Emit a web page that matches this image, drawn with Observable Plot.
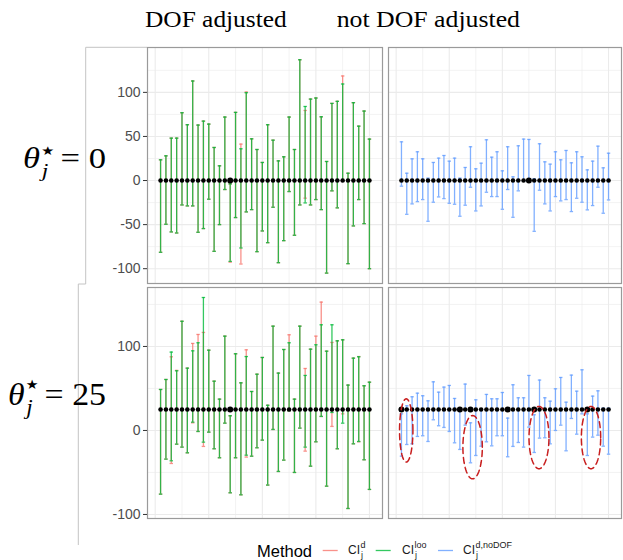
<!DOCTYPE html>
<html><head><meta charset="utf-8">
<script src="https://cdn.jsdelivr.net/npm/d3@7"></script>
<script src="https://cdn.jsdelivr.net/npm/@observablehq/plot@0.6"></script>
<style>
body{margin:0;background:#fff;}
#wrap{position:relative;width:623px;height:560px;overflow:hidden;background:#fff;}
.p{position:absolute;}
.p svg{background:transparent !important;max-width:none !important;overflow:visible;}
#ov{position:absolute;left:0;top:0;}
</style></head><body><div id="wrap"></div>
<script>
// ---------------- data ----------------
const colTitles = ["DOF adjusted", "not DOF adjusted"];
const truthValues = [0, 25];
const methods = ["d", "loo", "d,noDOF"];
const methodColors = ["#F8766D", "#00BA38", "#619CFF"];
const idx = d3.range(1, 41);

// theta = 0, DOF adjusted, CI loo (green)
const hiLoo0 = [23.5,28,48.1,48.1,76.9,63.3,112.9,62.9,67.4,64,37.5,16.7,72,-3.8,77.3,36,99.6,47.3,35.2,20.5,63.3,45.8,22.3,26.9,72,35.2,137,84,92.4,93.6,72.3,21.6,87.5,89.8,109.5,8.3,88.3,61.7,78.8,47];
const loLoo0 = [-81.4,-49.6,-58.3,-59.5,-27.7,-28.8,-28.8,-58.7,-54.5,-21.2,-80.3,-50,-10.2,-91.7,-42,-76.5,-35.6,-33,-80.7,-57.2,-70.5,-30.3,-93.2,-68.2,-12.5,-62.1,-27.7,-25.4,-27.7,-21.6,-33,-105,-11.7,-31,-0.5,-94.3,-51.5,-21.6,-48.9,-100];
// theta = 0, DOF adjusted, CI d (red)
const hiD0 = [23.5,28,48.1,48.1,76.9,63.3,112.9,62.9,67.4,64,37.5,16.7,72,-3.8,77.3,41.3,100.4,47.3,35.2,20.5,63.3,45.8,22.3,26.9,72,35.2,137,79.5,92.4,93.6,72.3,21.6,87.5,89.8,118.6,8.3,88.3,61.7,78.8,47];
const loD0 = [-81.4,-49.6,-58.3,-59.5,-27.7,-28.8,-28.8,-58.7,-54.5,-21.2,-80.3,-50,-10.2,-92.6,-42,-94.7,-35.6,-33,-80.7,-57.2,-70.5,-30.3,-93.2,-68.2,-12.5,-62.1,-27.7,-20,-27.7,-21.6,-33,-105,-11.7,-31,-0.5,-94.3,-51.5,-21.6,-48.9,-100];
// theta = 0, not DOF adjusted (blue)
const hiNo0 = [43.9,8.3,24.6,32.6,24.6,2.7,20.5,25.4,28.4,22,25.4,2.7,14.8,38.3,13.3,19.7,46.2,26.5,32.6,11,38.3,4.2,39.4,47,46.6,1.9,41.7,21.2,18.6,32.6,23.5,34.1,20.1,32.6,26.9,12.1,22,39,14.4,31];
const loNo0 = [-6.4,-38.3,-26.5,-23.9,-21.6,-46.2,-24.6,-18.6,-20.5,-25.8,-26.9,-40.5,-28,-7.6,-34.5,-28.8,-13.3,-18.2,-18.2,-32.6,-10.2,-41.7,-11.7,-0.8,0.8,-57.6,-11,-26.5,-34.5,-18.2,-23.1,-21.6,-35.2,-20.1,-24.6,-33.3,-28.4,-7.6,-37.1,-22];

// theta = 25, DOF adjusted, CI loo (green)
const hiLoo25 = [48.8,60.7,93.3,71,130,74.2,94.8,104.4,158.3,95.6,58.7,37.3,112.3,17.5,91.3,56.7,88,46.4,67,86.9,30,124.2,68.3,96.4,104.4,37.3,124.2,65.5,96.8,102,125.8,94.4,125.8,106.7,107.9,54,86.1,87.7,53.2,57.5];
const loLoo25 = [-75.8,-34.1,-36.1,-16.3,-19.8,-26.6,9.9,-1.2,-13.9,-2,-21.8,-32.5,8.7,-74.2,-32.5,-76.6,-29.4,-30.6,-20.6,-11.5,-65,1.2,-48.8,-35.3,23.4,-50,2.8,-19.8,-42.5,-13.5,16.7,-66.3,21.4,-21.8,8.7,-92.9,-15.9,-13.1,-34.9,-70.2];
// theta = 25, DOF adjusted, CI d (red)
const hiD25 = [48.8,60.7,87.7,71.5,130,74.2,103.6,114.3,116.7,95.6,58.7,37.3,112.3,17.5,91.3,56.7,96,46.4,67,86.9,30,124.2,68.3,96.4,113.9,37.3,124.2,73.8,96.8,112.3,152.8,94.4,104.8,106.7,107.9,54,86.1,88,53.2,57.5];
const loD25 = [-75.8,-34.1,-39.3,-16.3,-19.8,-26.6,9.1,-1.2,-19,-2,-21.8,-32.5,8.7,-74.2,-32.5,-76.6,-31.7,-30.6,-20.6,-11.5,-65,1.2,-48.8,-35.3,23.4,-50,2.8,-24.6,-42.5,-13.5,16.7,-66.3,4.8,-21.8,19.8,-92.9,-15.9,-13.5,-34.9,-70.2];
// theta = 25, not DOF adjusted (blue)
const hiNo25 = [19.8,29.4,40.1,44.4,41.3,35.3,57.9,45.6,51.6,53.6,38.1,23.5,55.2,9.1,36.5,25.8,42.9,37.7,37.7,45.2,14.7,54.4,38.9,38.9,65.5,18.7,60,38.9,34.9,49.6,63.1,33.7,65.9,46.8,72.2,19.8,40.9,47.2,26.5,26.5];
const loNo25 = [-30.6,-16.7,-15.9,-7.1,-6.3,-13.1,12.7,5.6,3.6,-1.2,-14.7,-22.6,6.3,-38.5,-29.8,-18.7,-13.5,-18.3,-6.3,-6.3,-31.3,-19,-14.3,-19.8,4,-26.2,-9.1,-8.7,-15.9,0,6.3,-24.2,14.3,-4.4,19.8,-29.8,-7.9,-5.6,-18.7,-28.2];

// annotation ellipses (bottom-right panel), in data units
const ellipses = [
  {cx: 1.9, cy: 0, rx: 1.26, ry: 37.7},
  {cx: 14.4, cy: -19.9, rx: 1.83, ry: 37.7},
  {cx: 26.9, cy: -8.5, rx: 1.88, ry: 37.1},
  {cx: 36.7, cy: -8.5, rx: 1.82, ry: 37.1}
];

const xDomain = [-1.44, 42.44];
const yDomainTop = [-116.8, 150.9];
const yDomainBot = [-104.8, 170.2];
const yTicksTop = [-100, -50, 0, 50, 100];
const yMinorTop = [-75, -25, 25, 75, 125];
const yTicksBot = [-100, 0, 100];
const yMinorBot = [-50, 50, 150];
const xMajor = [0, 10, 20, 30, 40];
const xMinor = [5, 15, 25, 35];

// ---------------- helpers ----------------
const mk = (lo, hi) => idx.map((i, k) => ({i, lo: lo[k], hi: hi[k]}));
function bars(data, color) {
  const o = {stroke: color, strokeWidth: 1.3, strokeOpacity: 0.8};
  return [
    Plot.ruleX(data, {x: "i", y1: "lo", y2: "hi", ...o}),
    Plot.link(data, {x1: d => d.i - 0.32, x2: d => d.i + 0.32, y1: "hi", y2: "hi", ...o}),
    Plot.link(data, {x1: d => d.i - 0.32, x2: d => d.i + 0.32, y1: "lo", y2: "lo", ...o})
  ];
}
function ellipsePts(list) {
  const pts = [];
  list.forEach((e, k) => {
    for (let s = 0; s <= 72; s++) {
      const t = s / 72 * 2 * Math.PI;
      pts.push({k, x: e.cx + e.rx * Math.cos(t), y: e.cy + e.ry * Math.sin(t)});
    }
  });
  return pts;
}

function panel({series, truth, yDomain, yTicks, yMinor, axis, ell, width, height}) {
  const ref = series[series.length - 1].data;
  const miss = d => truth < d.lo || truth > d.hi;
  const marks = [
    Plot.ruleX(xMinor, {stroke: "#ebebeb", strokeWidth: 0.6}),
    Plot.ruleY(yMinor, {stroke: "#ebebeb", strokeWidth: 0.6}),
    Plot.ruleX(xMajor, {stroke: "#ebebeb", strokeWidth: 1.1}),
    Plot.ruleY(yTicks, {stroke: "#ebebeb", strokeWidth: 1.1}),
    ...series.flatMap(s => bars(s.data, s.color)),
    Plot.dot(ref, {filter: d => !miss(d), x: "i", y: () => truth, r: 2.3, fill: "black", stroke: "none"}),
    Plot.dot(ref, {filter: d => miss(d), x: "i", y: () => truth, r: 3, fill: "black", stroke: "none"})
  ];
  if (ell) marks.push(Plot.line(ellipsePts(ell), {x: "x", y: "y", z: "k", stroke: "#c81e1e", strokeWidth: 1.5, strokeDasharray: "6,4", curve: "linear"}));
  marks.push(Plot.frame({stroke: "#9a9a9a", strokeWidth: 1.2}));
  if (axis) marks.push(Plot.axisY(yTicks, {tickSize: 4, tickPadding: 3, tickFormat: d => String(d), fontSize: 14, fill: "#4d4d4d", stroke: "#333", label: null}));
  return Plot.plot({
    width, height,
    marginLeft: axis ? 40 : 1, marginRight: 1, marginTop: 1, marginBottom: 1,
    x: {domain: xDomain, axis: null},
    y: {domain: yDomain, axis: null},
    style: {fontFamily: "'Liberation Sans', Arial, sans-serif", background: "transparent"},
    marks
  });
}

const wrap = document.getElementById("wrap");

// overlay svg (titles, row labels, legend, figure borders)
const W = 623, H = 560;
const ov = d3.select(wrap).append("svg").attr("id", "ov").attr("width", W).attr("height", H);
ov.append("path").attr("d", "M85.7,284 V47.3 H147").attr("fill", "none").attr("stroke", "#c4c4c4").attr("stroke-width", 1);
ov.append("path").attr("d", "M85.7,284 H78.3 V545").attr("fill", "none").attr("stroke", "#c4c4c4").attr("stroke-width", 1);

const serif = "'Liberation Serif', 'Times New Roman', serif";
[[colTitles[0], 145, 141.7], [colTitles[1], 336.7, 183.3]].forEach(([t, x, len]) => {
  ov.append("text").attr("x", x).attr("y", 27).attr("font-family", serif).attr("font-size", 23.5)
    .attr("textLength", len).attr("lengthAdjust", "spacingAndGlyphs").attr("fill", "#000").text(t);
});

function rowLabel(val, baseline, target, size, starDy) {
  const g = ov.append("g");
  const t = g.append("text").attr("text-anchor", "end").attr("font-family", serif).attr("font-size", size).attr("fill", "#000");
  t.append("tspan").attr("font-style", "italic").text("θ");
  t.append("tspan").attr("font-family", "'DejaVu Sans', sans-serif").attr("font-size", size * 0.42).attr("dx", 1).attr("dy", starDy).text("★");
  t.append("tspan").attr("font-style", "italic").attr("font-size", size * 0.68).attr("dx", -size * 0.36).attr("dy", -starDy + size * 0.3).text("j");
  t.append("tspan").attr("dx", size * 0.35).attr("dy", -size * 0.3).text("= " + val);
  const w = t.node().getBBox().width;
  const sx = target / w;
  g.attr("transform", `translate(106,${baseline}) scale(${sx},1)`);
}
rowLabel(truthValues[0], 168, 83, 29, -13);
rowLabel(truthValues[1], 405, 98, 31, -16);

// legend
const sans = "'Liberation Sans', Arial, sans-serif";
ov.append("text").attr("x", 257).attr("y", 557).attr("font-family", sans).attr("font-size", 16.5).attr("fill", "#000").text("Method");
const keyX = [322.7, 375.7, 438];
const labX = [348, 402, 463];
methods.forEach((m, k) => {
  ov.append("line").attr("x1", keyX[k]).attr("x2", keyX[k] + 15).attr("y1", 550.5).attr("y2", 550.5)
    .attr("stroke", methodColors[k]).attr("stroke-opacity", 0.8).attr("stroke-width", 1.3);
  ov.append("text").attr("x", labX[k]).attr("y", 554.3).attr("font-family", sans).attr("font-size", 12).attr("fill", "#1a1a1a").text("CI");
  ov.append("text").attr("x", labX[k] + 12.5).attr("y", 548).attr("font-family", sans).attr("font-size", 9).attr("fill", "#1a1a1a").text(m);
  ov.append("text").attr("x", labX[k] + 13).attr("y", 558).attr("font-family", sans).attr("font-size", 9).attr("fill", "#1a1a1a").text("j");
});

// panels
function place(plot, left, top) {
  const d = document.createElement("div");
  d.className = "p"; d.style.left = left + "px"; d.style.top = top + "px";
  d.appendChild(plot); wrap.appendChild(d);
}
const red = methodColors[0], green = methodColors[1], blue = methodColors[2];
place(panel({series: [{data: mk(loD0, hiD0), color: red}, {data: mk(loLoo0, hiLoo0), color: green}], truth: truthValues[0],
  yDomain: yDomainTop, yTicks: yTicksTop, yMinor: yMinorTop, axis: true, width: 276, height: 238}), 107, 46);
place(panel({series: [{data: mk(loNo0, hiNo0), color: blue}], truth: truthValues[0],
  yDomain: yDomainTop, yTicks: yTicksTop, yMinor: yMinorTop, axis: false, width: 235, height: 238}), 387, 46);
place(panel({series: [{data: mk(loD25, hiD25), color: red}, {data: mk(loLoo25, hiLoo25), color: green}], truth: truthValues[1],
  yDomain: yDomainBot, yTicks: yTicksBot, yMinor: yMinorBot, axis: true, width: 276, height: 233}), 107, 286);
place(panel({series: [{data: mk(loNo25, hiNo25), color: blue}], truth: truthValues[1],
  yDomain: yDomainBot, yTicks: yTicksBot, yMinor: yMinorBot, axis: false, ell: ellipses, width: 235, height: 233}), 387, 286);
</script></body></html>
